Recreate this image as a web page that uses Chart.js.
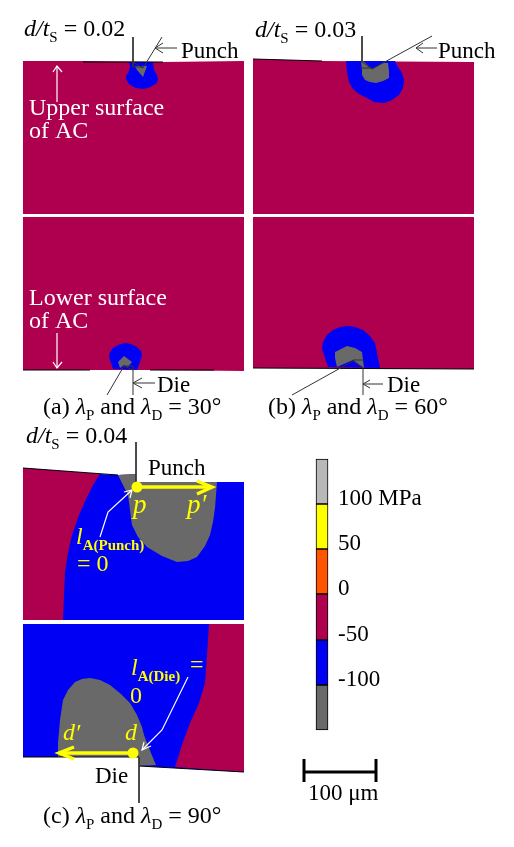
<!DOCTYPE html>
<html>
<head>
<meta charset="utf-8">
<script src="https://cdn.jsdelivr.net/npm/chart.js@4"></script>
<style>
html, body { margin: 0; padding: 0; background: #fff; }
canvas { display: block; }
</style>
</head>
<body>
<canvas id="stressMapChart" width="514" height="847"></canvas>
<script>
var MAROON = '#ae004f', BLUE = '#0000f5', GRAY = '#696969', YELLOW = '#ffff00';

// contour outlines, as [x, y] in image pixels
var panelATop = [[23,61],[83,61],[163,62],[244,61],[244,214],[23,214]];
var blueATop = [[129,62],[130,67],[129,71],[126,76],[126,79],[129,84],[132,86],[136,88],[143,89],[148,88],[152,86],[157,83],[158,79],[157,75],[154,70],[153,62]];
var grayATop = [[135,66],[147,66],[143,77],[137,70]];
var panelALow = [[23,217],[244,217],[244,371],[150,370],[90,370],[23,370]];
var blueALow = [[113,369],[111,363],[109,357],[110,352],[113,348],[118,345],[125,343],[131,344],[137,347],[141,351],[142,356],[140,362],[137,370]];
var grayALow = [[118,362],[124,356],[132,362],[128,367],[124,365],[120,368]];

var panelBTop = [[253,59],[322,61],[474,62],[474,214],[253,214]];
var blueBTop = [[346,61],[347,72],[349,82],[353,89],[359,94],[367,98],[374,102],[384,103],[392,100],[399,95],[403,88],[404,80],[402,73],[398,67],[395,61]];
var grayBTop = [[361,61],[362,70],[362,75],[365,80],[370,82],[376,83],[383,81],[389,78],[389,71],[388,63],[383,63],[372,69],[363,61]];
var panelBLow = [[253,217],[474,217],[474,369],[253,368]];
var blueBLow = [[328,367],[325,358],[322,349],[323,342],[327,335],[333,330],[340,327],[347,326],[355,327],[363,330],[370,336],[375,343],[377,353],[380,368]];
var grayBLow = [[337,367],[335,358],[335,352],[341,349],[347,346],[355,348],[362,352],[363,360],[364,368],[353,360]];

var panelCTop = [[23,468],[100,474],[118,475],[136,474],[136,482],[244,482],[244,620],[23,620]];
var maroonCTop = [[23,468],[100,474],[93,485],[87,497],[79,515],[72,535],[68,553],[65,572],[64,595],[63,620],[23,620]];
var grayCTop = [[118,475],[123,485],[128,495],[130,510],[132,525],[138,537],[147,547],[162,556],[177,562],[188,561],[197,557],[205,546],[210,535],[213,522],[215,508],[216,495],[217,482],[136,482],[136,474]];
var panelCLow = [[23,624],[244,624],[244,772],[139,766],[139,757],[23,757]];
var maroonCLow = [[209,624],[207,655],[205,683],[199,703],[190,723],[182,745],[175,767],[244,772],[244,624]];
var grayCLow = [[58,757],[58,743],[60,720],[63,700],[68,690],[75,682],[82,679],[90,678],[100,680],[110,685],[121,694],[130,703],[137,715],[142,727],[144,735],[147,743],[151,753],[156,765],[139,766],[139,757]];

// leader lines and arrows
var edgeLines = [
    [[83,62],[163,62]], [[253,59],[322,61]], [[253,368],[474,369]],
    [[23,468],[118,475]], [[23,757],[139,757]], [[139,766],[244,772]], [[90,370],[23,370]], [[150,370],[214,370]]
];
var thinLines = [
    [[133,37],[133,67],[143,67]], [[162,37],[143,68],[133,62]],
    [[177,48],[155,48]], [[163,43],[155,48],[163,53]],
    [[133,395],[133,366],[124,366]], [[107,395],[124,366],[133,370]],
    [[155,383],[133,383]], [[142,378],[133,383],[142,388]],
    [[362,36],[362,62],[372,69],[432,36]], [[360,68],[372,68]],
    [[437,48],[416,48]], [[423,43],[416,48],[423,53]],
    [[363,395],[363,368],[353,361],[292,395]], [[353,360],[364,360]],
    [[383,384],[363,384]], [[370,380],[363,384],[370,388]],
    [[136,442],[136,482]], [[139,757],[139,803]]
];
var whiteLines = [
    [[57,102],[57,66]], [[53,72],[57,66],[62,72]],
    [[57,333],[57,368]], [[53,362],[57,368],[62,362]],
    [[100,537],[108,512],[132,490]], [[124,492],[132,490],[130,498]],
    [[188,677],[162,730],[142,750]], [[144,742],[142,750],[151,746]]
];
var yellowArrows = [
    [[137,487],[210,487]], [[197,481],[212,487],[197,494]],
    [[133,753],[61,753]], [[74,747],[59,753],[74,759]]
];
var yellowDots = [[137,487],[133,753]];
var scaleBar = [[[304,772],[376,772]], [[304,759],[304,782]], [[376,759],[376,782]]];

// colour bar, top to bottom
var barEdges = [459,504,549,594,640,685,730];
var barColors = ['#b8b8b8','#ffff00','#ff5500',MAROON,BLUE,GRAY];
var barTicks = ['100 MPa','50','0','-50','-100'];

var datasets = [];
function addShape(pts, color) {
    datasets.push({ data: pts.concat([pts[0]]), showLine: true, fill: 'shape', backgroundColor: color, borderColor: color, borderWidth: 0, tension: 0, pointRadius: 0 });
}
function addLine(pts, color, width) {
    datasets.push({ data: pts, showLine: true, fill: false, borderColor: color, borderWidth: width, tension: 0, pointRadius: 0 });
}

addShape(panelATop, MAROON); addShape(blueATop, BLUE); addShape(grayATop, GRAY);
addShape(panelALow, MAROON); addShape(blueALow, BLUE); addShape(grayALow, GRAY);
addShape(panelBTop, MAROON); addShape(blueBTop, BLUE); addShape(grayBTop, GRAY);
addShape(panelBLow, MAROON); addShape(blueBLow, BLUE); addShape(grayBLow, GRAY);
addShape(panelCTop, BLUE); addShape(maroonCTop, MAROON); addShape(grayCTop, GRAY);
addShape(panelCLow, BLUE); addShape(maroonCLow, MAROON); addShape(grayCLow, GRAY);
edgeLines.forEach(function (l) { addLine(l, '#000', 1); });
thinLines.forEach(function (l) { addLine(l, '#333', 1); });
whiteLines.forEach(function (l) { addLine(l, '#fff', 1.2); });
yellowArrows.forEach(function (l) { addLine(l, YELLOW, 3.5); });
scaleBar.forEach(function (l) { addLine(l, '#000', 3); });
datasets.push({ data: yellowDots, showLine: false, pointRadius: 5.5, pointBackgroundColor: YELLOW, pointBorderWidth: 0 });
barColors.forEach(function (c, i) {
    datasets.push({ type: 'bar', data: [{ x: 322, y: [barEdges[i], barEdges[i + 1]] }], backgroundColor: c, borderColor: '#000', borderWidth: 1, borderSkipped: false, barThickness: 12, grouped: false });
});
// first dataset goes at the bottom
datasets.forEach(function (d, i) { d.order = datasets.length - i; });

// i = italic, s = subscript, b = bold subscript, p = big italic, w = wide text
var texts = [
    [24,36,'#000',[['d/t','i'],['S','s'],[' = 0.02','w']]],
    [255,37,'#000',[['d/t','i'],['S','s'],[' = 0.03','w']]],
    [26,443,'#000',[['d/t','i'],['S','s'],[' = 0.04','w']]],
    [181,58,'#000',[['Punch']]], [438,58,'#000',[['Punch']]], [148,475,'#000',[['Punch']]],
    [157,392,'#000',[['Die']]], [387,392,'#000',[['Die']]], [95,783,'#000',[['Die']]],
    [29,115,'#fff',[['Upper surface','w']]], [29,138,'#fff',[['of AC','w']]],
    [29,305,'#fff',[['Lower surface','w']]], [29,328,'#fff',[['of AC','w']]],
    [43,414,'#000',[['(a) ','w'],['λ','i'],['P','s'],[' and ','w'],['λ','i'],['D','s'],[' = 30°','w']]],
    [268,414,'#000',[['(b) ','w'],['λ','i'],['P','s'],[' and ','w'],['λ','i'],['D','s'],[' = 60°','w']]],
    [43,823,'#000',[['(c) ','w'],['λ','i'],['P','s'],[' and ','w'],['λ','i'],['D','s'],[' = 90°','w']]],
    [133,513,YELLOW,[['p','p']]], [187,513,YELLOW,[['p′','p']]],
    [76,544,YELLOW,[['l','i'],['A(Punch)','b']]], [77,571,YELLOW,[['= 0','w']]],
    [131,675,YELLOW,[['l','i'],['A(Die)','b']]], [190,672,YELLOW,[['=','w']]], [130,703,YELLOW,[['0','w']]],
    [63,740,YELLOW,[['d′','i']]], [125,740,YELLOW,[['d','i']]],
    [308,800,'#000',[['100 μm']]]
];

var labelPlugin = {
    id: 'labels',
    afterDraw: function (chart) {
        var ctx = chart.ctx, sx = chart.scales.x, sy = chart.scales.y;
        var fam = '"Liberation Serif", serif';
        var fonts = { i: 'italic 24px ', p: 'italic 27px ', s: '15px ', b: 'bold 15px ', w: '24px ' };
        function put(t) {
            var x = sx.getPixelForValue(t[0]), y = sy.getPixelForValue(t[1]);
            ctx.fillStyle = t[2];
            t[3].forEach(function (run) {
                var k = run[1];
                ctx.font = (fonts[k] || '23px ') + fam;
                ctx.fillText(run[0], x, (k === 's' || k === 'b') ? y + 6 : y);
                x += ctx.measureText(run[0]).width;
            });
        }
        ctx.save();
        ctx.textBaseline = 'alphabetic';
        ctx.textAlign = 'left';
        texts.forEach(put);
        barTicks.forEach(function (label, i) {
            put([338, barEdges[i + 1] + 1, '#000', [[label]]]);
        });
        ctx.restore();
    }
};

new Chart(document.getElementById('stressMapChart').getContext('2d'), {
    type: 'scatter',
    data: { datasets: datasets },
    options: {
        responsive: false,
        animation: false,
        events: [],
        layout: { padding: 0, autoPadding: false },
        scales: {
            x: { type: 'linear', display: false, offset: false, min: 0, max: 514 },
            y: { type: 'linear', display: false, min: 0, max: 847, reverse: true }
        },
        plugins: { legend: { display: false }, tooltip: { enabled: false } }
    },
    plugins: [labelPlugin]
});
</script>
</body>
</html>
